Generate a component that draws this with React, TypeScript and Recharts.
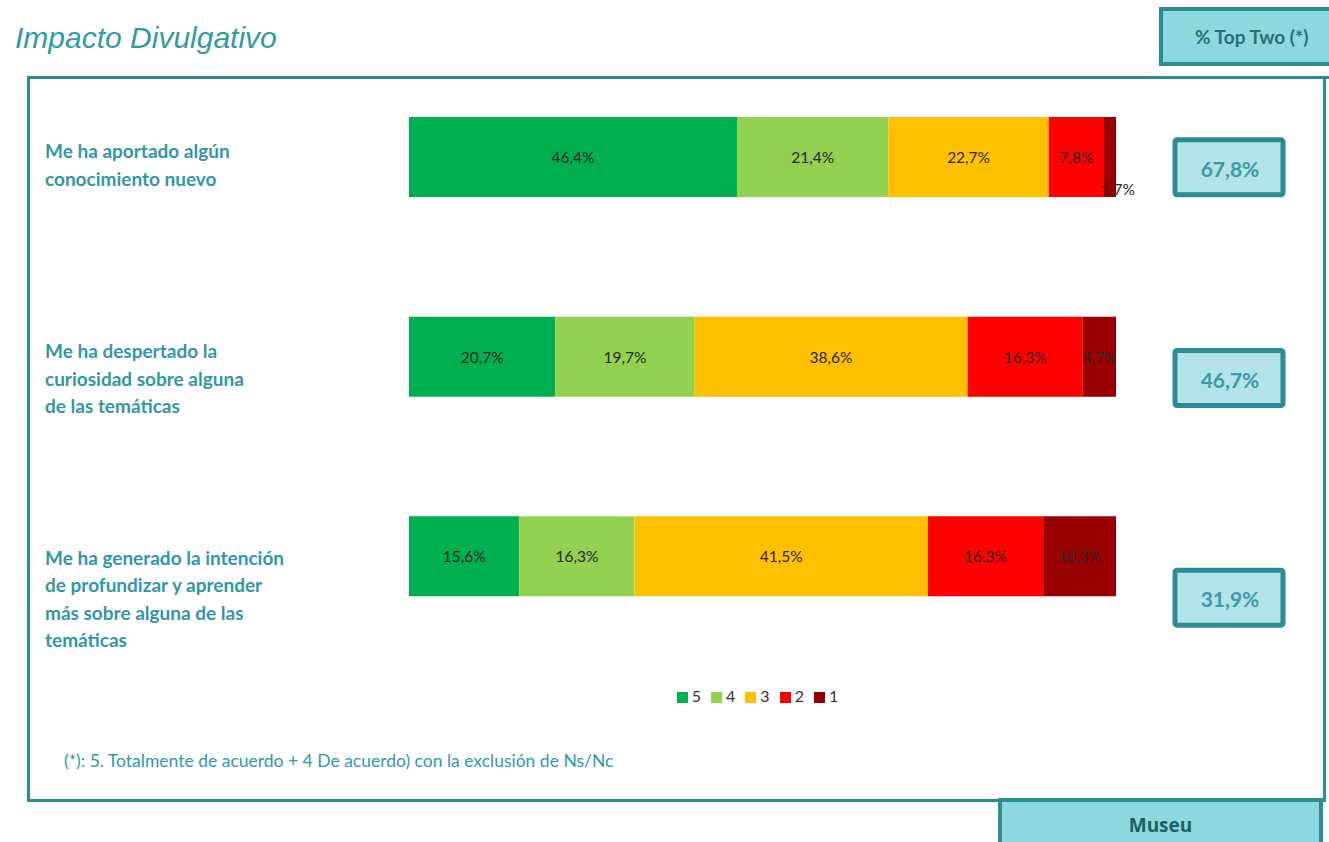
import React from 'react';
import { BarChart, Bar, XAxis, YAxis, Legend, LabelList } from 'recharts';

const categories = ['q1', 'q2', 'q3'];
const labelLines = [
  ['Me ha aportado algún', 'conocimiento nuevo'],
  ['Me ha despertado la', 'curiosidad sobre alguna', 'de las temáticas'],
  ['Me ha generado la intención', 'de profundizar y aprender', 'más sobre alguna de las', 'temáticas'],
];
const s5 = [46.4, 20.7, 15.6];
const s4 = [21.4, 19.7, 16.3];
const s3 = [22.7, 38.6, 41.5];
const s2 = [7.8, 16.3, 16.3];
const s1 = [1.7, 4.7, 10.3];
const topTwo = [67.8, 46.7, 31.9];
const seriesNames = ['5', '4', '3', '2', '1'];

const colors = ['#00B050', '#92D050', '#FFC000', '#FF0000', '#990000'];
const TEAL = '#2B8C91';
const LABEL_TEAL = '#3197A4';

const data = categories.map((c, i) => ({
  name: c,
  s5: s5[i],
  s4: s4[i],
  s3: s3[i],
  s2: s2[i],
  s1: s1[i],
}));

const fmt = (v: number) => v.toFixed(1).replace('.', ',') + '%';

const labelOffsets = [-6, -6, 1];
const boxOffsets = [10.5, 21.5, 41.5];

const CategoryTick = (props: any) => {
  const { y, index } = props;
  const lines = labelLines[index] || [];
  const start = y + labelOffsets[index];
  const by = y + boxOffsets[index];
  return (
    <g>
      {lines.map((l, k) => (
        <text
          key={k}
          x={45}
          y={start + k * 27.5}
          dominantBaseline="central"
          fontFamily="Lato"
          fontWeight={700}
          fontSize={19}
          fill={LABEL_TEAL}
        >
          {l}
        </text>
      ))}
      <rect x={1175} y={by - 27.5} width={108} height={55} rx={2} fill="#B1E3E8" stroke={TEAL} strokeWidth={5} />
      <text
        x={1230}
        y={by + 1}
        textAnchor="middle"
        dominantBaseline="central"
        fontFamily="Lato"
        fontWeight={700}
        fontSize={21}
        fill="#3A9BA7"
      >
        {fmt(topTwo[index])}
      </text>
    </g>
  );
};

const renderLabel = (props: any) => {
  const { x, y, width, height, value } = props;
  const narrow = width < 20;
  const cx = narrow ? x + width / 2 + 8 : x + width / 2;
  const cy = narrow ? y + height - 8 : y + height / 2;
  return (
    <text
      x={cx}
      y={cy}
      textAnchor="middle"
      dominantBaseline="central"
      fontFamily="Lato"
      fontSize={15.5}
      fill="#262626"
    >
      {fmt(value)}
    </text>
  );
};

const keys = ['s5', 's4', 's3', 's2', 's1'];

export default function App() {
  return (
    <div
      style={{
        position: 'absolute',
        left: 0,
        top: 0,
        width: 1329,
        height: 842,
        overflow: 'hidden',
        background: '#fff',
        fontFamily: 'Lato',
      }}
    >
      <div
        style={{
          position: 'absolute',
          left: 15,
          top: 22,
          fontFamily: 'Liberation Sans',
          fontStyle: 'italic',
          fontSize: 30,
          lineHeight: '32px',
          color: '#3399A5',
        }}
      >
        Impacto Divulgativo
      </div>
      <div
        style={{
          position: 'absolute',
          left: 1159,
          top: 7,
          width: 190,
          height: 59,
          boxSizing: 'border-box',
          border: `4px solid ${TEAL}`,
          background: '#8CD8DE',
        }}
      />
      <div
        style={{
          position: 'absolute',
          left: 1195,
          top: 25,
          fontFamily: 'Lato',
          fontWeight: 700,
          fontSize: 19,
          lineHeight: '24px',
          color: '#2B6E76',
        }}
      >
        % Top Two (*)
      </div>
      <div
        style={{
          position: 'absolute',
          left: 27,
          top: 76,
          width: 1400,
          height: 3,
          background: TEAL,
        }}
      />
      <div
        style={{
          position: 'absolute',
          left: 27,
          top: 76,
          width: 1299,
          height: 726,
          boxSizing: 'border-box',
          border: `3px solid ${TEAL}`,
        }}
      />
      <div style={{ position: 'absolute', left: 0, top: 0 }}>
        <BarChart
          width={1329}
          height={842}
          data={data}
          layout="vertical"
          margin={{ top: 38, right: 213, bottom: 186, left: 45 }}
          barSize={80}
        >
          <XAxis type="number" domain={[0, 100]} hide />
          <YAxis
            type="category"
            dataKey="name"
            width={364}
            axisLine={false}
            tickLine={false}
            tick={<CategoryTick />}
            interval={0}
          />
          <Legend
            verticalAlign="top"
            iconType="square"
            iconSize={11}
            itemSorter={(item: any) => seriesNames.indexOf(String(item.value))}
            wrapperStyle={{
              position: 'absolute',
              left: 409,
              width: 707,
              top: 686,
              fontFamily: 'Lato',
              fontSize: 16,
            }}
            formatter={(v: any) => <span style={{ color: '#333' }}>{v}</span>}
          />
          {keys.map((k, i) => (
            <Bar
              key={k}
              dataKey={k}
              name={seriesNames[i]}
              stackId="a"
              fill={colors[i]}
              isAnimationActive={false}
            >
              <LabelList dataKey={k} content={renderLabel} />
            </Bar>
          ))}
        </BarChart>
      </div>
      <div
        style={{
          position: 'absolute',
          left: 64,
          top: 749,
          fontFamily: 'Lato',
          fontSize: 17.5,
          lineHeight: '24px',
          color: '#2E9AA6',
        }}
      >
        (*): 5. Totalmente de acuerdo + 4 De acuerdo) con la exclusión de Ns/Nc
      </div>
      <div
        style={{
          position: 'absolute',
          left: 998,
          top: 798,
          width: 325,
          height: 60,
          boxSizing: 'border-box',
          border: `4px solid ${TEAL}`,
          background: '#8CD8DE',
        }}
      />
      <div
        style={{
          position: 'absolute',
          left: 998,
          width: 325,
          top: 812,
          textAlign: 'center',
          fontFamily: 'Open Sans',
          fontWeight: 700,
          fontSize: 19,
          lineHeight: '26px',
          color: '#1E5E66',
        }}
      >
        Museu
      </div>
    </div>
  );
}
